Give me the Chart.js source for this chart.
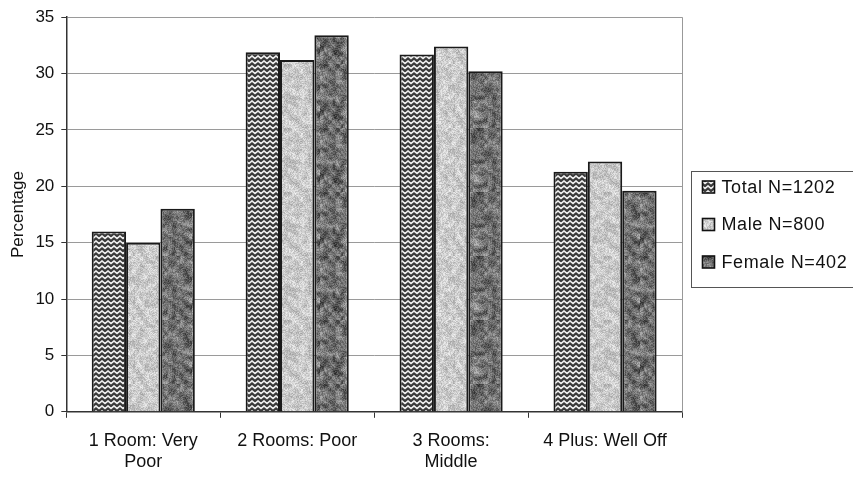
<!DOCTYPE html>
<html>
<head>
<meta charset="utf-8">
<script src="https://cdn.jsdelivr.net/npm/chart.js@4/dist/chart.umd.min.js"></script>
<style>
  html, body { margin: 0; padding: 0; background: #fff; }
  canvas { display: block; }
</style>
</head>
<body>
<canvas id="rooms-chart" width="853" height="477"></canvas>
<script>
const categories = [['1 Room: Very', 'Poor'], '2 Rooms: Poor', ['3 Rooms:', 'Middle'], '4 Plus: Well Off'];
const seriesNames = ['Total N=1202', 'Male N=800', 'Female N=402'];
const totalValues = [16.0, 31.9, 31.7, 21.3];
const maleValues = [15.0, 31.2, 32.4, 22.2];
const femaleValues = [18.0, 33.4, 30.2, 19.6];
const yTicks = [0, 5, 10, 15, 20, 25, 30, 35];

const FONT = "'Liberation Sans', Arial, sans-serif";

// small seeded generator so the textures come out the same each time
function rng(seed) {
    let s = seed >>> 0;
    return () => {
        s = (s * 1664525 + 1013904223) >>> 0;
        return s / 4294967296;
    };
}

function mottled(base, blobs, grain, seed) {
    const size = 64;
    const c = document.createElement('canvas');
    c.width = c.height = size;
    const g = c.getContext('2d');
    const r = rng(seed);
    const small = document.createElement('canvas');
    small.width = small.height = 16;
    const sg = small.getContext('2d');
    const img = sg.createImageData(16, 16);
    for (let i = 0; i < img.data.length; i += 4) {
        const v = base + (r() - 0.5) * blobs;
        img.data[i] = img.data[i + 1] = img.data[i + 2] = v;
        img.data[i + 3] = 255;
    }
    sg.putImageData(img, 0, 0);
    g.imageSmoothingEnabled = true;
    g.drawImage(small, 0, 0, size, size);
    const d = g.getImageData(0, 0, size, size);
    for (let i = 0; i < d.data.length; i += 4) {
        const n = (r() - 0.5) * grain;
        d.data[i] += n; d.data[i + 1] += n; d.data[i + 2] += n;
    }
    g.putImageData(d, 0, 0);
    return g.createPattern(c, 'repeat');
}

function weave() {
    const c = document.createElement('canvas');
    c.width = 6; c.height = 5;
    const g = c.getContext('2d');
    g.fillStyle = '#3a3a3a';
    g.fillRect(0, 0, 6, 5);
    g.strokeStyle = '#f0f0f0';
    g.lineWidth = 1.6;
    g.beginPath();
    for (let y = -5; y <= 5; y += 5) {
        g.moveTo(-0.5, y + 0.5);
        g.lineTo(3, y + 3.5);
        g.lineTo(6.5, y + 0.5);
    }
    g.stroke();
    return g.createPattern(c, 'repeat');
}

const fills = [weave(), mottled(202, 45, 50, 7), mottled(112, 100, 60, 19)];

const frameAndLegend = {
    id: 'frameAndLegend',
    afterDraw(chart) {
        const { ctx, chartArea } = chart;
        ctx.save();
        // right edge of the plot
        ctx.strokeStyle = '#999';
        ctx.lineWidth = 1;
        ctx.beginPath();
        ctx.moveTo(chartArea.right + 0.5, chartArea.top);
        ctx.lineTo(chartArea.right + 0.5, chartArea.bottom);
        ctx.stroke();

        // boxed legend on the right
        const left = chartArea.right + 9.5;
        const top = 171.5;
        ctx.strokeStyle = '#555';
        ctx.strokeRect(left, top, 200, 116);
        ctx.font = '18px ' + FONT;
        ctx.textBaseline = 'middle';
        ctx.letterSpacing = '0.6px';
        chart.data.datasets.forEach((ds, i) => {
            const cy = 187 + i * 37.5;
            ctx.fillStyle = ds.backgroundColor;
            ctx.fillRect(left + 11, cy - 6, 12, 12);
            ctx.strokeStyle = '#111';
            ctx.lineWidth = 1.6;
            ctx.strokeRect(left + 11, cy - 6, 12, 12);
            ctx.fillStyle = '#111';
            ctx.fillText(ds.label, left + 30, cy + 1);
        });
        ctx.restore();
    }
};

new Chart(document.getElementById('rooms-chart'), {
    type: 'bar',
    data: {
        labels: categories,
        datasets: [
            { label: seriesNames[0], data: totalValues, backgroundColor: fills[0] },
            { label: seriesNames[1], data: maleValues, backgroundColor: fills[1] },
            { label: seriesNames[2], data: femaleValues, backgroundColor: fills[2] }
        ].map(ds => Object.assign(ds, { borderColor: '#1a1a1a', borderWidth: 2, borderSkipped: 'bottom' }))
    },
    options: {
        responsive: false,
        animation: false,
        layout: { padding: { left: 8, right: 171, top: 11, bottom: -8 } },
        datasets: { bar: { categoryPercentage: 0.67, barPercentage: 1.0 } },
        plugins: {
            legend: { display: false },
            tooltip: { enabled: false }
        },
        scales: {
            x: {
                grid: { offset: true, drawOnChartArea: false, tickLength: 6, tickColor: '#333' },
                border: { color: '#333', width: 1.5 },
                ticks: { color: '#111', font: { family: FONT, size: 18 }, padding: 12, maxRotation: 0 }
            },
            y: {
                min: 0,
                max: 35,
                afterBuildTicks: axis => { axis.ticks = yTicks.map(v => ({ value: v })); },
                grid: { color: '#9a9a9a', lineWidth: 1, tickLength: 5, tickColor: '#333' },
                border: { color: '#333', width: 1.5 },
                ticks: { color: '#111', font: { family: FONT, size: 17 }, padding: 7 },
                title: {
                    display: true,
                    text: 'Percentage',
                    color: '#111',
                    font: { family: FONT, size: 17 },
                    padding: { top: 0, bottom: 0 }
                }
            }
        }
    },
    plugins: [frameAndLegend]
});
</script>
</body>
</html>
